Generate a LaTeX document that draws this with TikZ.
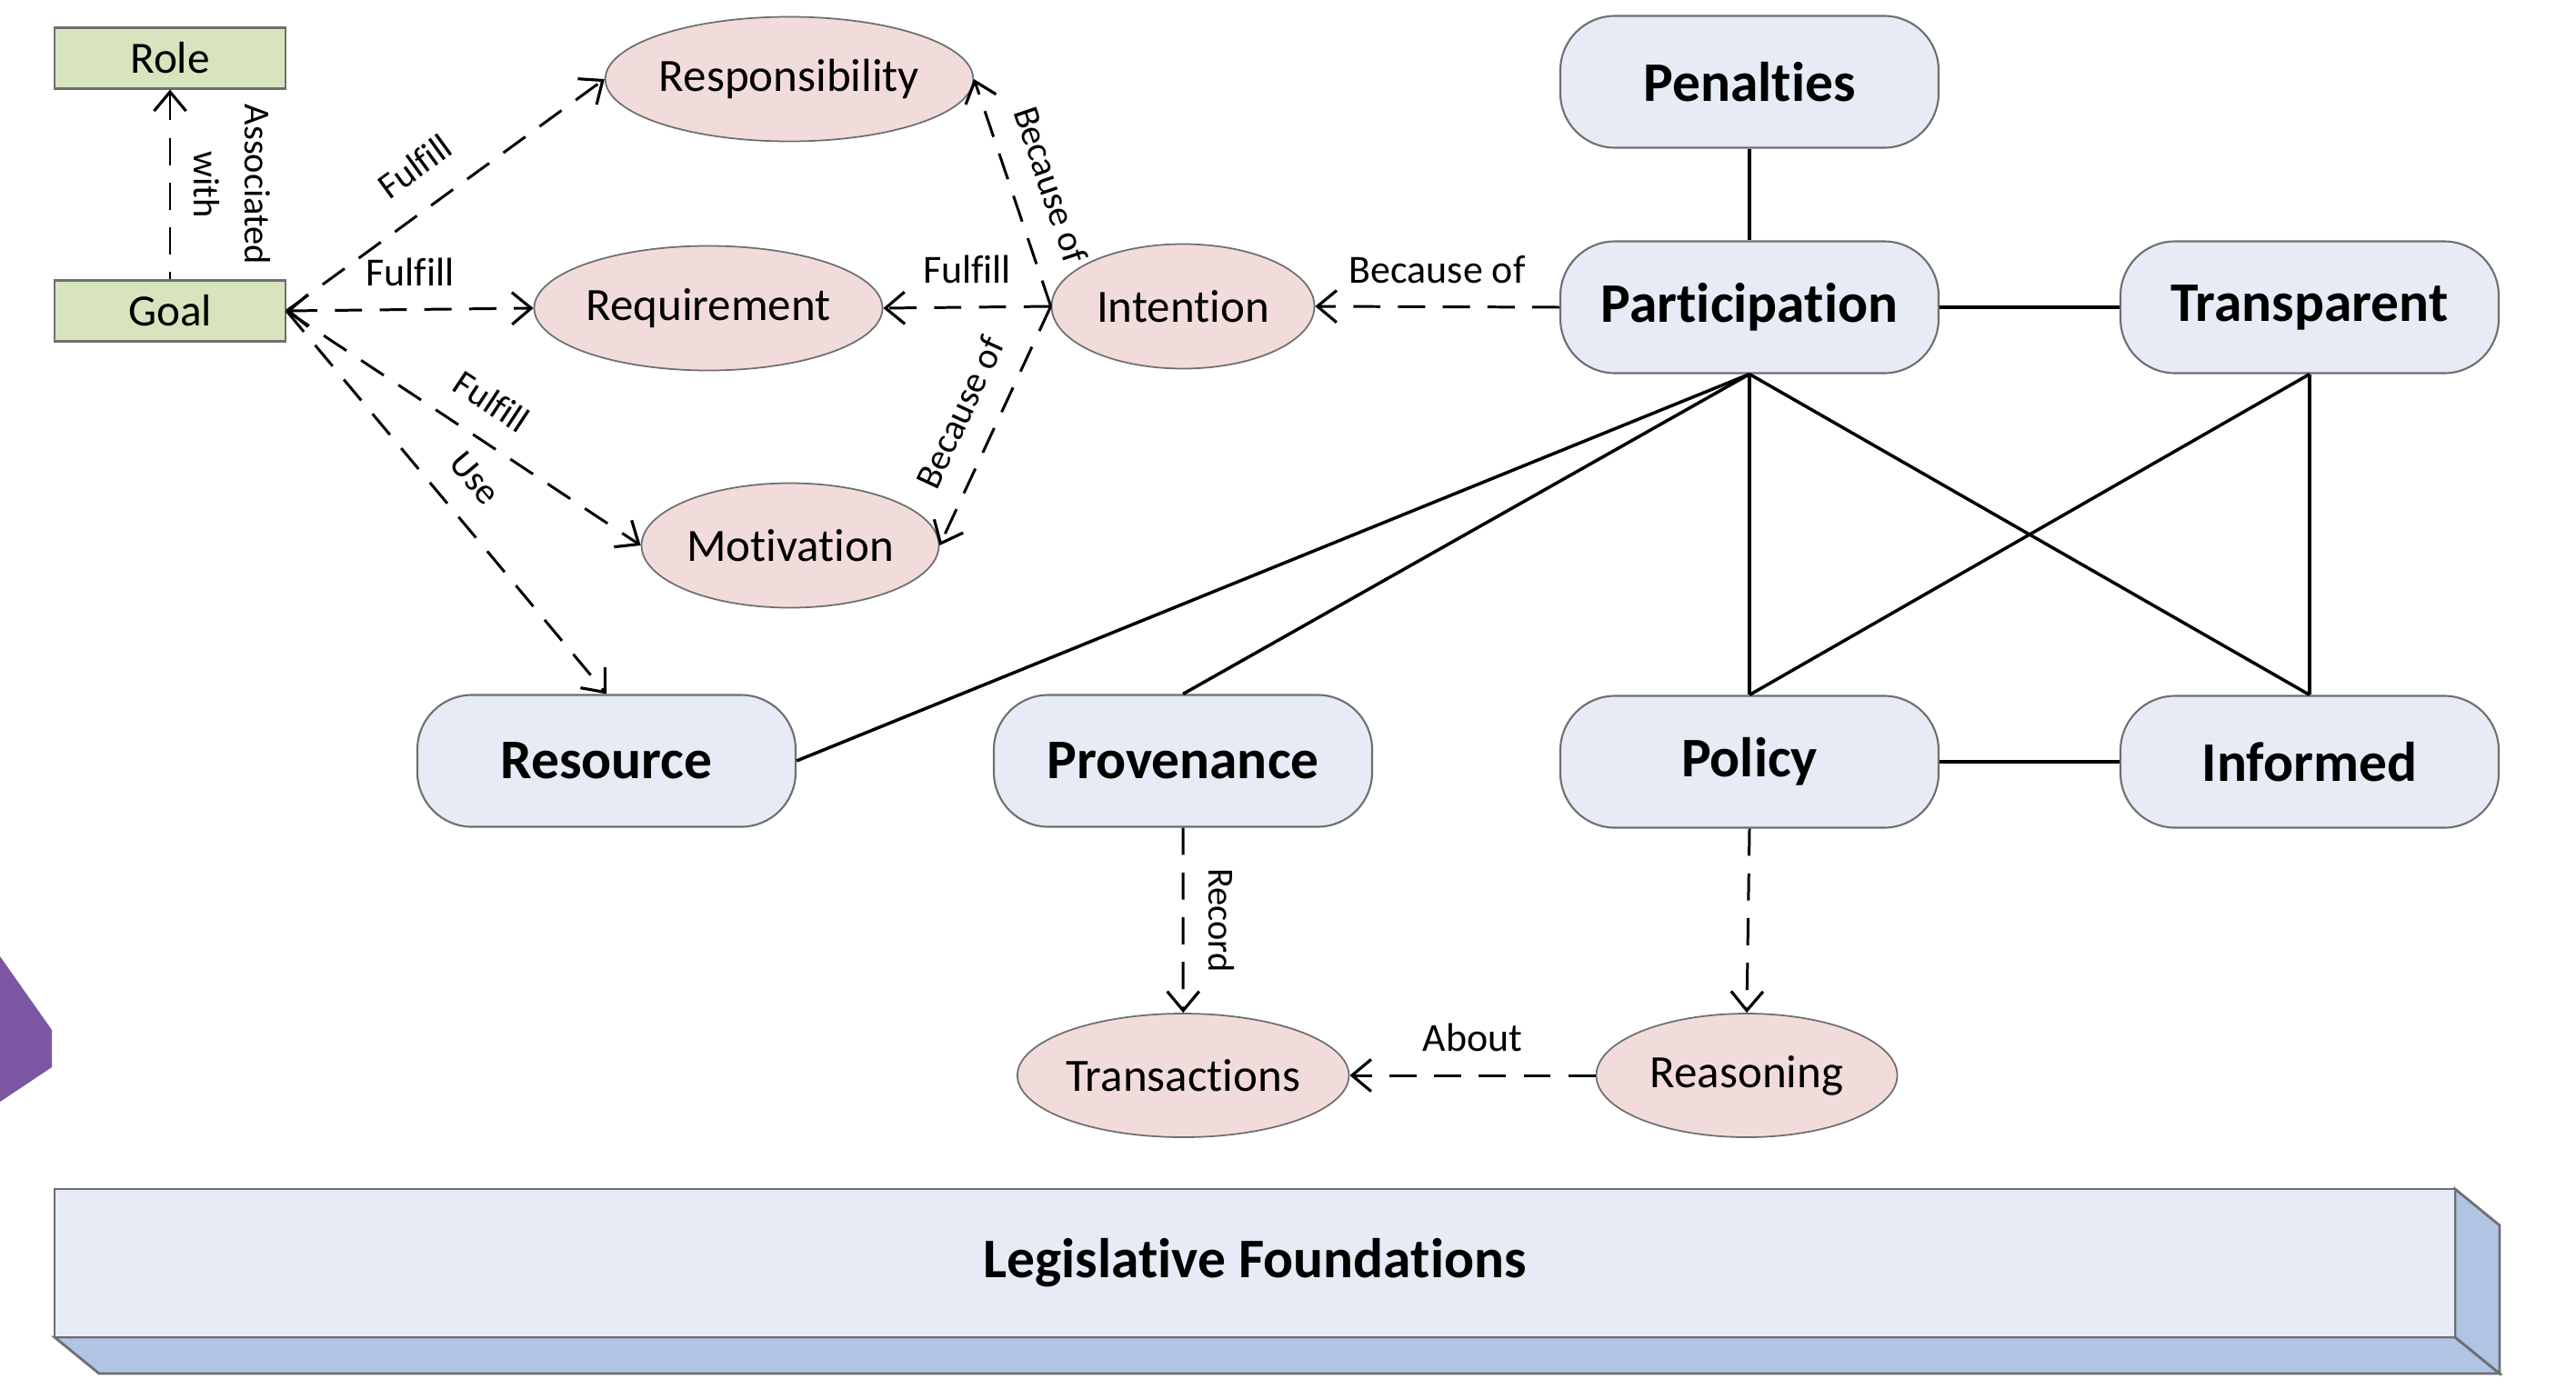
\documentclass[tikz,border=0pt]{standalone}
\usepackage{fontspec}
\setmainfont{Carlito}[Ligatures=NoCommon]
\usetikzlibrary{arrows.meta,shapes.geometric}

\definecolor{goalgreen}{HTML}{D7E4BD}
\definecolor{conceptpink}{HTML}{F2DCDB}
\definecolor{principleblue}{HTML}{E6EBF5}
\definecolor{lawside}{HTML}{B0C4E3}
\definecolor{rimgray}{HTML}{6F6F6F}
\definecolor{markpurple}{HTML}{7B57A3}

\tikzset{
	>={Straight Barb[length=6pt,width=10pt,line width=0.9pt]},
	goalbox/.style={draw=rimgray, fill=goalgreen, line width=0.6pt, minimum width=2.54cm, minimum height=0.67cm, inner sep=0pt, font=\fontsize{14}{16}\selectfont},
	concept/.style={ellipse, draw=rimgray, fill=conceptpink, line width=0.5pt, minimum height=1.37cm, inner sep=0pt, font=\fontsize{14.5}{17}\selectfont},
	principle/.style={draw=rimgray, fill=principleblue, rounded corners=0.6cm, line width=0.6pt, minimum width=4.16cm, minimum height=1.45cm, inner sep=0pt, font=\bfseries\fontsize{17.5}{20}\selectfont},
	link/.style={->, line width=0.85pt, dash pattern=on 8.5pt off 5.5pt},
	tie/.style={line width=1pt},
	lbl/.style={font=\fontsize{12.5}{15}\selectfont, inner sep=2pt},
	slantlbl/.style={font=\fontsize{11.5}{16}\selectfont, inner sep=2pt, sloped},
}

\begin{document}
\begin{tikzpicture}
		%%%%% START %%%%%
		\useasboundingbox (0, 0) rectangle (28.33, -15.27);
		
		% purple mark at the left border
		\fill[markpurple] (0, -10.52) -- (0.57, -11.33) -- (0.57, -11.74) -- (0, -12.12) -- cycle;
		
		% legislative foundations slab
		\fill[lawside, draw=rimgray, line width=0.8pt] (0.60, -14.71) -- (27.00, -14.71) -- (27.49, -15.11) -- (1.09, -15.11) -- cycle;
		\fill[lawside, draw=rimgray, line width=0.8pt] (27.00, -13.08) -- (27.49, -13.48) -- (27.49, -15.11) -- (27.00, -14.71) -- cycle;
		\node[draw=rimgray, fill=principleblue, line width=0.8pt, minimum width=26.40cm, minimum height=1.63cm, inner sep=0pt, font=\bfseries\fontsize{17.5}{20}\selectfont] (law) at (13.80, -13.895) {Legislative Foundations};
		
		% goal side
		\node[goalbox] (role) at (1.87, -0.64) {Role};
		\node[goalbox] (goal) at (1.87, -3.42) {Goal};
		
		\node[concept, minimum width=3.81cm] (resp) at (8.68, -0.87) {Responsibility};
		\node[concept, minimum width=3.83cm] (req) at (7.79, -3.39) {Requirement};
		\node[concept, minimum width=2.89cm] (intent) at (13.01, -3.37) {Intention};
		\node[concept, minimum width=3.27cm] (motiv) at (8.69, -6.00) {Motivation};
		\node[concept, minimum width=3.61cm, minimum height=1.36cm] (trans) at (13.012, -11.83) {Transactions};
		\node[concept, minimum width=3.31cm, minimum height=1.36cm] (reason) at (19.21, -11.83) {Reasoning};
		
		% principles
		\node[principle] (penal) at (19.24, -0.90) {Penalties};
		\node[principle] (partic) at (19.24, -3.38) {Participation};
		\node[principle] (transp) at (25.40, -3.38) {Transparent};
		\node[principle] (resour) at (6.67, -8.37) {Resource};
		\node[principle] (proven) at (13.01, -8.37) {Provenance};
		\node[principle] (policy) at (19.24, -8.38) {Policy};
		\node[principle] (inform) at (25.40, -8.38) {Informed};
		
		% dashed relations
		\draw[link, <-] (role) -- (goal) node[slantlbl, midway, above=5pt, align=center] {Associated\\with};
		\draw[link] (goal.east) -- (resp.west) node[slantlbl, pos=0.48, above=6.5pt] {Fulfill};
		\draw[link, <->] (goal.east) -- (req.west) node[lbl, midway, above=5pt] {Fulfill};
		\draw[link] (goal.east) -- (motiv.west) node[slantlbl, pos=0.52, above=5.5pt] {Fulfill};
		\draw[link] (goal.east) -- (resour.north) node[slantlbl, pos=0.5, above=5.5pt] {Use};
		
		\draw[link] (intent.west) -- (resp.east) node[slantlbl, pos=0.48, above=6pt] {Because of};
		\draw[link] (intent.west) -- (req.east) node[lbl, midway, above=5pt] {Fulfill};
		\draw[link] (intent.west) -- (motiv.east) node[slantlbl, pos=0.51, above=5.5pt] {Because of};
		\draw[link] (partic.west) -- (intent.east) node[lbl, midway, above=5pt] {Because of};
		
		\draw[link] (proven.south) -- (trans.north) node[slantlbl, midway, above=5.5pt] {Record};
		\draw[link] (policy.south) -- (reason.north);
		\draw[link] (reason.west) -- (trans.east) node[lbl, midway, above=5pt] {About};
		
		% solid ties
		\draw[tie] (penal) -- (partic);
		\draw[tie] (partic) -- (transp);
		\draw[tie] (policy) -- (inform);
		\draw[tie] (partic.south) -- (resour.east);
		\draw[tie] (partic.south) -- (proven.north);
		\draw[tie] (partic.south) -- (policy.north);
		\draw[tie] (partic.south) -- (inform.north);
		\draw[tie] (transp.south) -- (policy.north);
		\draw[tie] (transp.south) -- (inform.north);
		
		%%%%% END %%%%%
\end{tikzpicture}
\end{document}
